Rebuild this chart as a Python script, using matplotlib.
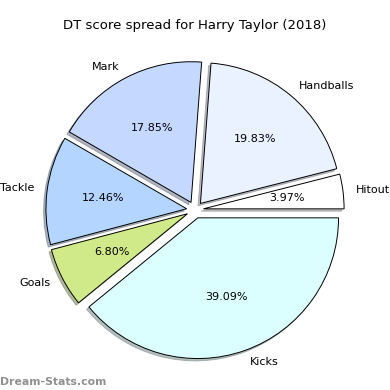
import matplotlib
matplotlib.use("Agg")
import matplotlib.pyplot as plt

labels = ["Hitout", "Handballs", "Mark", "Tackle", "Goals", "Kicks"]
values = [3.97, 19.83, 17.85, 12.46, 6.80, 39.09]
colors = ["#ffffff", "#eaf1ff", "#c5d8ff", "#b3d5ff", "#d0ea8a", "#dbffff"]
explode = [0.06, 0.06, 0.06, 0.06, 0.06, 0.06]

fig = plt.figure(figsize=(3.9, 3.9), dpi=100)
ax = fig.add_axes([0.0, 0.0, 1.0, 0.92])
ax.pie(values, labels=labels, colors=colors, explode=explode, autopct="%.2f%%",
       shadow={"ox": -0.012, "oy": -0.012, "shade": 0.5},
       startangle=0, counterclock=True, labeldistance=1.09,
       wedgeprops={"edgecolor": "black", "linewidth": 0.7},
       textprops={"fontsize": 8})
ax.set_aspect("equal")
ax.set_xlim(-1.385, 1.385)
ax.set_ylim(-1.28, 1.27)
fig.suptitle("DT score spread for Harry Taylor (2018)", fontsize=9.5, y=0.95)
fig.text(0.0, 0.013, "Dream-Stats.com", fontsize=7.8, color="#909090", fontweight="bold")

fig.savefig("out.png", dpi=100)
